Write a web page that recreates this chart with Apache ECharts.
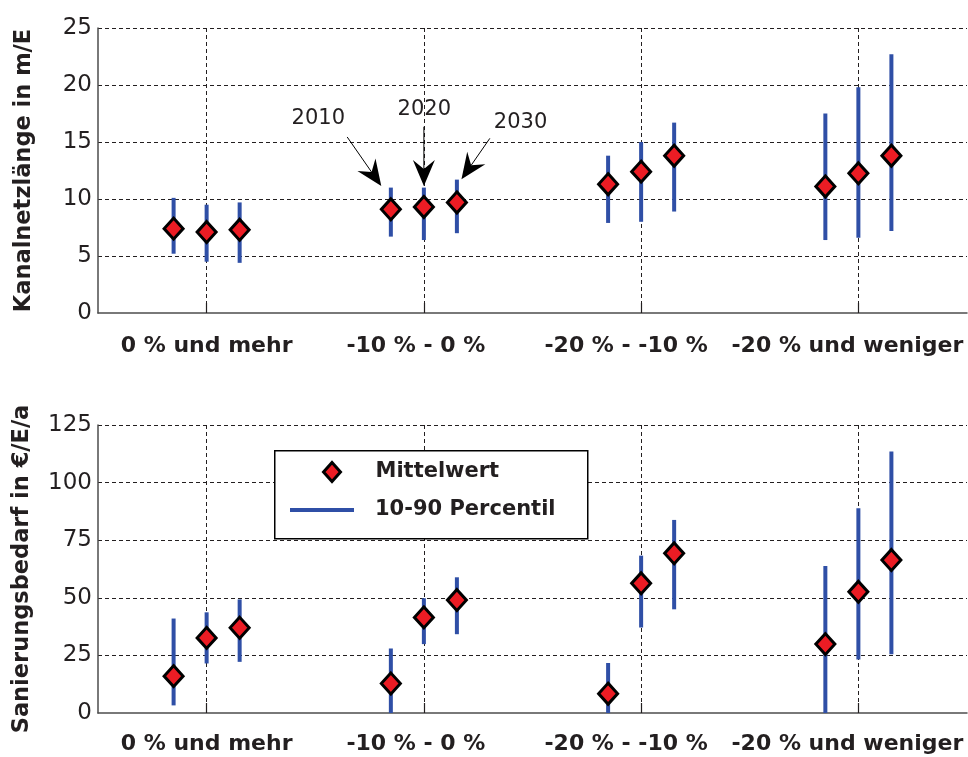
<!DOCTYPE html>
<html>
<head>
<meta charset="utf-8">
<script src="https://cdn.jsdelivr.net/npm/echarts@6/dist/echarts.min.js"></script>
<style>
html,body{margin:0;padding:0;background:#fff;}
#chart{width:968px;height:757px;}
</style>
</head>
<body>
<div id="chart"></div>
<script>
// ---------------- DATA ----------------
const categories = ['0 % und mehr', '-10 % - 0 %', '-20 % - -10 %', '-20 % und weniger'];
const years = ['2010', '2020', '2030'];

// Kanalnetzlänge in m/E
const laengeMean2010 = [7.4, 9.1, 11.3, 11.1];
const laengeMean2020 = [7.1, 9.3, 12.4, 12.25];
const laengeMean2030 = [7.3, 9.7, 13.8, 13.8];
const laengeP10_2010 = [5.2, 6.7, 7.9, 6.4];
const laengeP90_2010 = [10.1, 11.0, 13.8, 17.5];
const laengeP10_2020 = [4.5, 6.4, 8.0, 6.6];
const laengeP90_2020 = [9.5, 11.0, 15.0, 19.8];
const laengeP10_2030 = [4.4, 7.0, 8.9, 7.2];
const laengeP90_2030 = [9.7, 11.7, 16.7, 22.7];

// Sanierungsbedarf in €/E/a
const sanMean2010 = [16.0, 12.8, 8.4, 29.9];
const sanMean2020 = [32.6, 41.5, 56.3, 52.6];
const sanMean2030 = [37.0, 49.0, 69.3, 66.4];
const sanP10_2010 = [3.3, 0, 0, 0];
const sanP90_2010 = [41.0, 28.0, 21.7, 63.8];
const sanP10_2020 = [21.5, 29.9, 37.1, 23.2];
const sanP90_2020 = [43.7, 49.8, 68.3, 88.9];
const sanP10_2030 = [22.2, 34.2, 45.0, 25.5];
const sanP90_2030 = [49.3, 58.9, 83.8, 113.5];

const yTicksTop = [0, 5, 10, 15, 20, 25];
const yTicksBottom = [0, 25, 50, 75, 100, 125];

// ---------------- LAYOUT / STYLE ----------------
const DODGE = 0.152;               // horizontal offset between years (category units)
const RED = '#ec1c24';
const BLUE = '#2f4fa6';
const TXT = '#231f20';
const FONT = '"DejaVu Sans", "Liberation Sans", sans-serif';
// right padding of each category label (shifts the centred text to the left, as in the original)
const LABEL_PAD_RIGHT = [0, 16, 30, 22];
// annotation layout in data coordinates of the top panel: [textX, textY, fromX, fromY, toX, toY]
const ANNOTATION_POS = [
  [1.514, 17.1, 1.647, 15.44, 1.804, 11.14],
  [2.002, 17.85, 2.0, 16.34, 2.0, 11.14],
  [2.445, 16.75, 2.3036, 15.32, 2.173, 11.73]
];

function buildMeans(arrs) {
  const out = [];
  arrs.forEach((arr, yi) => arr.forEach((v, ci) => out.push([ci + 1 + (yi - 1) * DODGE, v])));
  return out;
}
function buildRanges(lows, highs) {
  const out = [];
  lows.forEach((arr, yi) => arr.forEach((v, ci) => out.push([ci + 1 + (yi - 1) * DODGE, v, highs[yi][ci]])));
  return out;
}

const topMeans = buildMeans([laengeMean2010, laengeMean2020, laengeMean2030]);
const topRanges = buildRanges([laengeP10_2010, laengeP10_2020, laengeP10_2030],
                              [laengeP90_2010, laengeP90_2020, laengeP90_2030]);
const botMeans = buildMeans([sanMean2010, sanMean2020, sanMean2030]);
const botRanges = buildRanges([sanP10_2010, sanP10_2020, sanP10_2030],
                              [sanP90_2010, sanP90_2020, sanP90_2030]);

const labelRich = {};
LABEL_PAD_RIGHT.forEach((p, i) => {
  labelRich['c' + i] = { fontFamily: FONT, fontWeight: 'bold', fontSize: 22, color: TXT, padding: [0, p, 0, 0] };
});

function xAxisFor(gi, margin) {
  return {
    type: 'value', gridIndex: gi, min: 0.5, max: 4.5, splitNumber: 4,
    axisLine: { show: true, onZero: false, lineStyle: { color: '#4d4d4d', width: 1.5 } },
    axisTick: { show: true, inside: true, length: 10, customValues: [1, 2, 3, 4], lineStyle: { color: TXT, width: 1.2 } },
    axisLabel: {
      customValues: [1, 2, 3, 4],
      formatter: v => (Number.isInteger(v) && v >= 1 && v <= 4) ? '{c' + (v - 1) + '|' + categories[v - 1] + '}' : '',
      rich: labelRich,
      margin: margin, fontFamily: FONT, fontWeight: 'bold', fontSize: 22, color: TXT
    },
    splitLine: { show: true, showMinLine: true, showMaxLine: true,
                 lineStyle: { type: [4, 3], color: TXT, width: 1 } }
  };
}
function yAxisFor(gi, ticks, name, gap) {
  return {
    type: 'value', gridIndex: gi, min: ticks[0], max: ticks[ticks.length - 1],
    interval: ticks[1] - ticks[0],
    name: name, nameLocation: 'middle', nameGap: gap,
    nameTextStyle: { fontFamily: FONT, fontWeight: 'bold', fontSize: 22.5, color: TXT },
    axisLine: { show: true, lineStyle: { color: '#4d4d4d', width: 1.5 } },
    axisTick: { show: false },
    axisLabel: { fontFamily: FONT, fontSize: 23, color: TXT, margin: 6 },
    splitLine: { show: true, showMinLine: false, lineStyle: { type: [4, 3], color: TXT, width: 1 } }
  };
}

function rangeRender(params, api) {
  const x = api.value(0);
  const a = api.coord([x, api.value(1)]);
  const b = api.coord([x, api.value(2)]);
  return { type: 'line', shape: { x1: a[0], y1: a[1], x2: b[0], y2: b[1] },
           style: { stroke: BLUE, lineWidth: 4 } };
}
function annoRender(params, api) {
  const t = api.coord([api.value(0), api.value(1)]);
  const f = api.coord([api.value(2), api.value(3)]);
  const e = api.coord([api.value(4), api.value(5)]);
  const dx = e[0] - f[0], dy = e[1] - f[1], L = Math.hypot(dx, dy);
  const ux = dx / L, uy = dy / L, px = -uy, py = ux;
  const HL = 26, HW = 11, NOTCH = 9;
  const base = [e[0] - ux * HL, e[1] - uy * HL];
  const notch = [e[0] - ux * (HL - NOTCH), e[1] - uy * (HL - NOTCH)];
  return {
    type: 'group',
    children: [
      { type: 'line', shape: { x1: f[0], y1: f[1], x2: notch[0], y2: notch[1] },
        style: { stroke: '#000', lineWidth: 1 } },
      { type: 'polygon', shape: { points: [e, [base[0] + px * HW, base[1] + py * HW], notch,
                                           [base[0] - px * HW, base[1] - py * HW]] },
        style: { fill: '#000' } },
      { type: 'text', x: t[0], y: t[1],
        style: { text: years[params.dataIndex], font: '21px ' + FONT, fill: TXT,
                 align: 'center', verticalAlign: 'middle' } }
    ]
  };
}

const meanStyle = { color: RED, borderColor: '#000', borderWidth: 3, opacity: 1 };

const option = {
  backgroundColor: '#fff',
  animation: false,
  grid: [
    { left: 98, width: 869, top: 28, height: 285, outerBoundsMode: 'none', containLabel: false },
    { left: 98, width: 869, top: 425, height: 288, outerBoundsMode: 'none', containLabel: false }
  ],
  xAxis: [xAxisFor(0, 22), xAxisFor(1, 20)],
  yAxis: [
    yAxisFor(0, yTicksTop, 'Kanalnetzlänge in m/E', 62),
    yAxisFor(1, yTicksBottom, 'Sanierungsbedarf in €/E/a', 64)
  ],
  graphic: [
    { type: 'rect', left: 274, top: 450, z: 5,
      shape: { width: 313, height: 88 },
      style: { fill: '#fff', stroke: '#000', lineWidth: 1.5 } }
  ],
  legend: [
    { data: [{ name: 'Mittelwert', icon: 'diamond', itemStyle: meanStyle }],
      left: 322, top: 460, padding: 0, itemWidth: 17, itemHeight: 19, z: 10,
      selectedMode: false,
      textStyle: { fontFamily: FONT, fontWeight: 'bold', fontSize: 21, color: TXT,
                   lineHeight: 24, padding: [0, 0, 0, 30] } },
    { data: [{ name: '10-90 Percentil', icon: 'rect', itemStyle: { color: BLUE, borderWidth: 0, opacity: 1 } }],
      left: 290, top: 498, padding: 0, itemWidth: 64, itemHeight: 4, z: 10,
      selectedMode: false,
      textStyle: { fontFamily: FONT, fontWeight: 'bold', fontSize: 21, color: TXT,
                   lineHeight: 24, padding: [0, 0, 0, 16] } }
  ],
  series: [
    { name: '10-90 Percentil', type: 'custom', xAxisIndex: 0, yAxisIndex: 0, z: 2,
      renderItem: rangeRender, encode: { x: 0, y: [1, 2] }, data: topRanges, silent: true },
    { name: 'Mittelwert', type: 'scatter', xAxisIndex: 0, yAxisIndex: 0, z: 3,
      symbol: 'diamond', symbolSize: [19, 21], itemStyle: meanStyle, data: topMeans, silent: true },
    { name: '10-90 Percentil', type: 'custom', xAxisIndex: 1, yAxisIndex: 1, z: 2,
      renderItem: rangeRender, encode: { x: 0, y: [1, 2] }, data: botRanges, silent: true },
    { name: 'Mittelwert', type: 'scatter', xAxisIndex: 1, yAxisIndex: 1, z: 3,
      symbol: 'diamond', symbolSize: [19, 21], itemStyle: meanStyle, data: botMeans, silent: true },
    { name: 'annotations', type: 'custom', xAxisIndex: 0, yAxisIndex: 0, z: 4,
      renderItem: annoRender, encode: { x: [0, 2, 4], y: [1, 3, 5] },
      data: ANNOTATION_POS, silent: true, clip: false }
  ]
};

const chart = echarts.init(document.getElementById('chart'), null, { renderer: 'canvas' });
chart.setOption(option);
</script>
</body>
</html>
